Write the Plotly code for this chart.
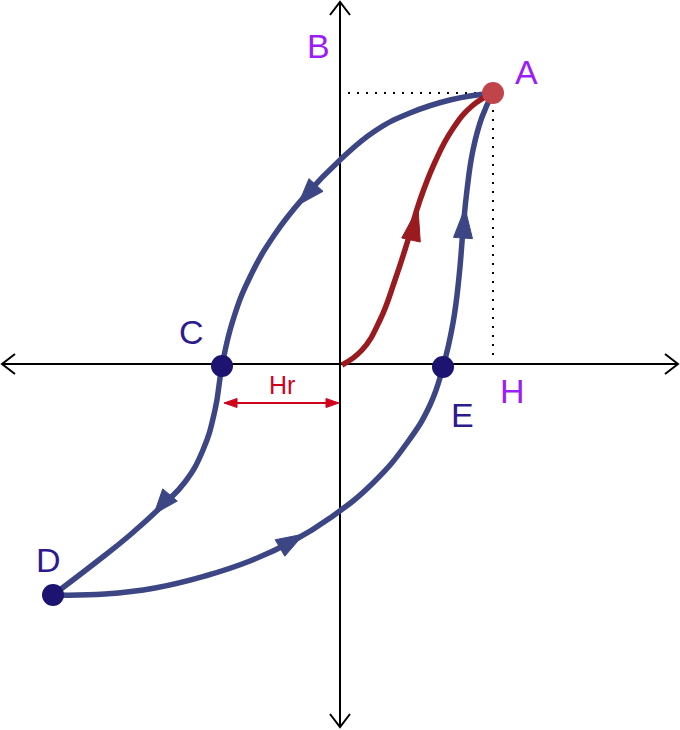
import plotly.graph_objects as go
import numpy as np

# Coordinate system: origin at the axis crossing, 1 unit = 1 px, y upwards
# Initial magnetisation curve (O -> A)
initial_x = [2, 22, 40, 55, 68, 80, 95, 112, 132, 153]
initial_y = [-1, 14, 44, 84, 124, 164, 202, 234, 258, 271]

# Upper (descending) branch A -> C -> D
upper_x = [153, 110, 70, 35, 0, -35, -65, -90, -107, -118, -125, -137, -155, -177, -210, -245, -287]
upper_y = [271, 264, 251, 233, 204, 168, 130, 87, 44, -2, -46, -86, -118, -141, -171, -199, -231]

# Lower (ascending) branch D -> E -> A
lower_x = [-287, -235, -185, -135, -90, -47, -10, 33, 67, 90, 103,
           113, 119, 123, 127, 133, 142, 153]
lower_y = [-231, -230, -224, -212, -197, -177, -154, -119, -79, -41, -3,
           41, 87, 134, 174, 214, 247, 271]

# Key points
point_names = ["A", "C", "D", "E"]
point_x = [153, -118, -287, 103]
point_y = [271, -2, -231, -3]
point_colors = ["#c1444a", "#1c1470", "#1c1470", "#1c1470"]

# Direction arrowheads on the curves: tip and base centre
arrow_tip_x = [78, 125, -42, -186, -36]
arrow_tip_y = [156, 156, 159, -150, -170]
arrow_base_x = [71, 123, -24, -170, -60]
arrow_base_y = [124, 126, 179, -131, -184]
arrow_colors = ["#9a1b1f", "#3c4684", "#3c4684", "#3c4684", "#3c4684"]

# Labels
label_text = ["A", "B", "C", "D", "E", "H", "Hr"]
label_x = [186, -22, -149, -292, 122, 172, -58]
label_y = [292, 318, 32, -196, -51, -27, -21]
label_colors = ["#9b1cfc", "#9b1cfc", "#2e1a8f", "#2e1a8f", "#2e1a8f", "#9b1cfc", "#d0021b"]
label_sizes = [34, 34, 34, 34, 34, 34, 25]

# Hr span
hr_x = [-116, -1]
hr_y = -39

# Axes extents
axis_x = [-338, 338]
axis_y = [-363, 362]

BLUE = "#3c4684"
RED = "#9a1b1f"

fig = go.Figure()


def triangle(tx, ty, bx, by, hw):
    d = np.array([tx - bx, ty - by], dtype=float)
    d /= np.linalg.norm(d)
    p = np.array([-d[1], d[0]])
    b = np.array([bx, by], dtype=float)
    v1 = b + p * hw
    v2 = b - p * hw
    return [tx, v1[0], v2[0], tx], [ty, v1[1], v2[1], ty]


def chevron(tx, ty, dx, dy, length=13, hw=10):
    d = np.array([dx, dy], dtype=float)
    d /= np.linalg.norm(d)
    p = np.array([-d[1], d[0]])
    b = np.array([tx, ty]) - d * length
    v1 = b + p * hw
    v2 = b - p * hw
    return [v1[0], tx, v2[0]], [v1[1], ty, v2[1]]


# Axes
fig.add_trace(go.Scatter(x=axis_x, y=[0, 0], mode="lines",
                         line=dict(color="black", width=2), hoverinfo="skip"))
fig.add_trace(go.Scatter(x=[0, 0], y=axis_y, mode="lines",
                         line=dict(color="black", width=2), hoverinfo="skip"))
for (tx, ty, dx, dy) in [(axis_x[0], 0, -1, 0), (axis_x[1], 0, 1, 0),
                         (0, axis_y[0], 0, -1), (0, axis_y[1], 0, 1)]:
    cx, cy = chevron(tx, ty, dx, dy)
    fig.add_trace(go.Scatter(x=cx, y=cy, mode="lines",
                             line=dict(color="black", width=2), hoverinfo="skip"))

# Dotted guides to A
fig.add_trace(go.Scatter(x=[8, point_x[0] - 4], y=[point_y[0], point_y[0]], mode="lines",
                         line=dict(color="black", width=2, dash="2px,7px"), hoverinfo="skip"))
fig.add_trace(go.Scatter(x=[point_x[0], point_x[0]], y=[point_y[0] - 8, 2], mode="lines",
                         line=dict(color="black", width=2, dash="2px,7px"), hoverinfo="skip"))

# Hysteresis branches
for xs, ys, col in [(upper_x, upper_y, BLUE), (lower_x, lower_y, BLUE), (initial_x, initial_y, RED)]:
    fig.add_trace(go.Scatter(x=xs, y=ys, mode="lines",
                             line=dict(color=col, width=5.5, shape="spline", smoothing=1.3),
                             hoverinfo="skip"))

# Direction arrowheads
for tx, ty, bx, by, c in zip(arrow_tip_x, arrow_tip_y, arrow_base_x, arrow_base_y, arrow_colors):
    xs, ys = triangle(tx, ty, bx, by, 9.5)
    fig.add_trace(go.Scatter(x=xs, y=ys, mode="lines", fill="toself", fillcolor=c,
                             line=dict(color=c, width=1), hoverinfo="skip"))

# Hr double arrow
HRC = "#d0021b"
fig.add_trace(go.Scatter(x=[hr_x[0] + 8, hr_x[1] - 8], y=[hr_y, hr_y], mode="lines",
                         line=dict(color=HRC, width=2), hoverinfo="skip"))
for tx, bx in [(hr_x[0], hr_x[0] + 13), (hr_x[1], hr_x[1] - 13)]:
    xs, ys = triangle(tx, hr_y, bx, hr_y, 4.5)
    fig.add_trace(go.Scatter(x=xs, y=ys, mode="lines", fill="toself", fillcolor=HRC,
                             line=dict(color=HRC, width=1), hoverinfo="skip"))

# Points
fig.add_trace(go.Scatter(x=point_x, y=point_y, mode="markers",
                         marker=dict(size=22, color=point_colors, line=dict(width=0)),
                         text=point_names, hoverinfo="text"))

# Labels
for t, x, y, c, s in zip(label_text, label_x, label_y, label_colors, label_sizes):
    fig.add_annotation(x=x, y=y, text=t, showarrow=False,
                       font=dict(family="Liberation Sans, Arial, sans-serif", size=s, color=c),
                       xanchor="center", yanchor="middle")

fig.update_layout(
    width=680, height=730,
    margin=dict(l=0, r=0, t=0, b=0, pad=0),
    paper_bgcolor="white", plot_bgcolor="white",
    showlegend=False,
    xaxis=dict(range=[-340, 340], visible=False, fixedrange=True),
    yaxis=dict(range=[-366, 364], visible=False, fixedrange=True),
)

fig.write_html("out.html", config={"displayModeBar": False},
               post_script="document.body.style.margin='0';document.body.style.overflow='hidden';")
